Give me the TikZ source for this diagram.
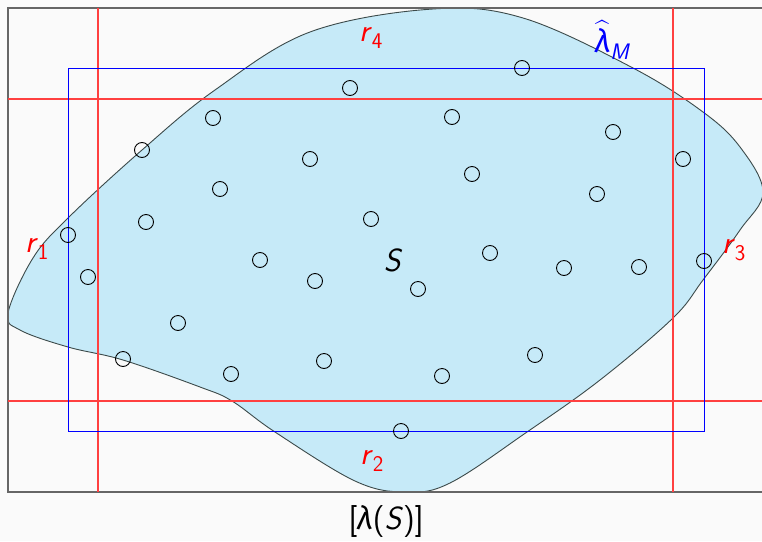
\documentclass[tikz,border=0pt]{standalone}
\usepackage{amsmath}
\usepackage{fontspec}
\newfontfamily\greekfont{Fira Sans}
\definecolor{bgcol}{HTML}{FAFAFA}
\definecolor{framecol}{HTML}{666666}
\definecolor{blobfill}{HTML}{C6EAF8}
\definecolor{blobline}{HTML}{3C4A4A}
\definecolor{cutred}{HTML}{FF4040}
\newcommand{\cutlbl}[2]{\textit{#1}\textsubscript{#2}}
\newcommand{\lamb}{{\greekfont\itshape λ}}
\begin{document}
\begin{tikzpicture}[x=1pt,y=-1pt]
		\tikzset{sample/.style={draw=black,circle,minimum size=15pt,inner sep=0pt,line width=0.9pt},
			cut/.style={draw=cutred,line width=1.1pt},
			lbl/.style={font=\sffamily\fontsize{32}{38}\selectfont,inner sep=0pt}};
		\fill[bgcol] (0,0) rectangle (762,541);
		\useasboundingbox (0,0) rectangle (762,541);
		% the set S
		\filldraw[fill=blobfill,draw=blobline,line width=0.9pt] plot[smooth cycle,tension=0.6] coordinates {
			(8,313) (33,258) (68,218) (142,150) (215,90) (310,32) (433,9) (523,18) (633,68)
			(703,112) (740,147) (763,192) (740,230) (703,280) (673,318) (600,380) (527,432)
			(450,483) (405,492) (355,481) (275,432) (232,401) (200,387) (123,360) (68,347) (20,330)};
		% outer frame
		\draw[framecol,line width=1.4pt] (765,8) -- (8,8) -- (8,492) -- (765,492);
		% cuts
		\coordinate (c1t) at (98,8);   \coordinate (c1b) at (98,492);
		\coordinate (c3t) at (673,8);  \coordinate (c3b) at (673,492);
		\coordinate (c4l) at (8,99);   \coordinate (c4r) at (765,99);
		\coordinate (c2l) at (8,401);  \coordinate (c2r) at (765,401);
		\draw[cut] (c1t) -- (c1b);
		\draw[cut] (c3t) -- (c3b);
		\draw[cut] (c4l) -- (c4r);
		\draw[cut] (c2l) -- (c2r);
		% approximation box
		\draw[blue,line width=1pt] (68,68) rectangle (704,431);
		% sample points
		\foreach \px/\py [count=\i] in {522/68,350/88,213/118,452/117,613/132,142/150,310/159,683/159,
			472/174,220/189,597/194,146/222,371/219,68/235,260/260,490/253,564/268,639/267,704/261,
			88/277,315/281,418/289,178/323,123/359,324/361,535/355,231/374,442/376,401/431}
			\node[sample] (s\i) at (\px,\py) {};
		% labels
		\node[lbl,text=red] (r4) at (371,38) {\cutlbl{r}{4}};
		\node[lbl,text=red] (r1) at (37,249) {\cutlbl{r}{1}};
		\node[lbl,text=red] (r3) at (734,250) {\cutlbl{r}{3}};
		\node[lbl,text=red] (r2) at (372,461) {\cutlbl{r}{2}};
		\node[lbl,text=blue] (lam) at (612,40) {$\widehat{\text{\lamb}}$\textsubscript{\itshape M}};
		\node[lbl] (S) at (393,260) {\textit{S}};
		\node[lbl] (cap) at (386,521) {[\lamb(\textit{S})]};
	\end{tikzpicture}
\end{document}
